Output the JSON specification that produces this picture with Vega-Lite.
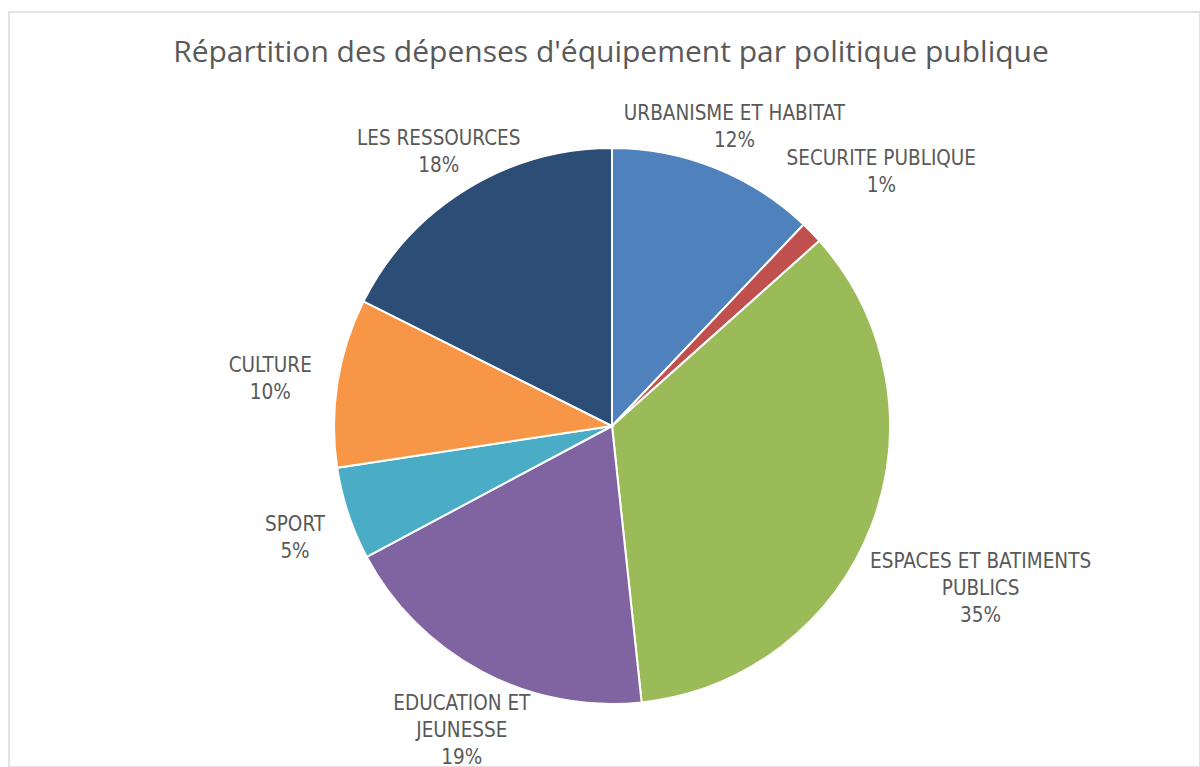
{
  "$schema": "https://vega.github.io/schema/vega-lite/v6.json",
  "autosize": "none",
  "width": 1191,
  "height": 755,
  "padding": {"left": 9, "top": 12, "right": 0, "bottom": 0},
  "background": "white",
  "view": {"stroke": "#d9d9d9", "strokeWidth": 1.5},
  "title": {
    "text": "Répartition des dépenses d'équipement par politique publique",
    "font": "Open Sans",
    "fontSize": 30,
    "fontWeight": "normal",
    "color": "#595959",
    "anchor": "middle",
    "baseline": "alphabetic",
    "offset": -52,
    "dy": 28,
    "dx": 6.5
  },
  "data": {
    "values": [
      {"rank": 1, "name": "URBANISME ET HABITAT", "share": 0.121},
      {"rank": 2, "name": "SECURITE PUBLIQUE", "share": 0.013},
      {"rank": 3, "name": "ESPACES ET BATIMENTS\nPUBLICS", "share": 0.349},
      {"rank": 4, "name": "EDUCATION ET\nJEUNESSE", "share": 0.189},
      {"rank": 5, "name": "SPORT", "share": 0.054},
      {"rank": 6, "name": "CULTURE", "share": 0.098},
      {"rank": 7, "name": "LES RESSOURCES", "share": 0.176}
    ]
  },
  "transform": [
    {"calculate": "datum.name + '\\n' + format(datum.share, '.0%')", "as": "label"}
  ],
  "encoding": {
    "theta": {"field": "share", "type": "quantitative", "stack": true},
    "order": {"field": "rank", "type": "quantitative"}
  },
  "layer": [
    {
      "mark": {"type": "arc", "outerRadius": 278, "stroke": "white", "strokeWidth": 2, "xOffset": 7.5, "yOffset": 36.5},
      "encoding": {
        "color": {
          "field": "name",
          "type": "nominal",
          "legend": null,
          "scale": {
            "domain": ["URBANISME ET HABITAT", "SECURITE PUBLIQUE", "ESPACES ET BATIMENTS\nPUBLICS", "EDUCATION ET\nJEUNESSE", "SPORT", "CULTURE", "LES RESSOURCES"],
            "range": ["#4f81bd", "#c0504d", "#9bbb59", "#8064a2", "#4bacc6", "#f79646", "#2c4d75"]
          }
        }
      }
    },
    {
      "mark": {"type": "text", "font": "Liberation Sans Narrow, DejaVu Sans Condensed, sans-serif", "fontSize": 20.5, "color": "#595959", "lineBreak": "\n", "lineHeight": 27, "align": "center", "baseline": "alphabetic", "xOffset": 7.5, "yOffset": 36.5},
      "encoding": {
        "text": {"field": "label", "type": "nominal"},
        "radius": {
          "field": "share",
          "type": "quantitative",
          "scale": {
            "type": "linear",
            "zero": false,
            "nice": false,
            "domain": [0.013, 0.054, 0.098, 0.121, 0.176, 0.189, 0.349],
            "range": [375, 334, 346, 330, 330, 321, 395]
          }
        }
      }
    }
  ]
}
